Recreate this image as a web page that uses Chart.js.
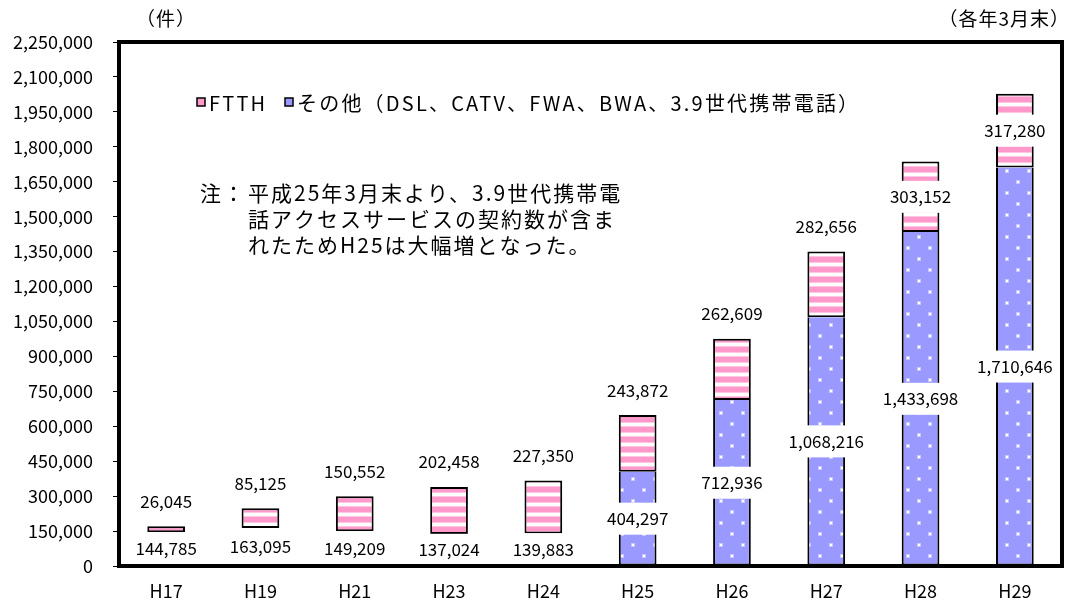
<!DOCTYPE html>
<html>
<head>
<meta charset="utf-8">
<script src="https://cdn.jsdelivr.net/npm/chart.js@4"></script>
<style>
  html, body { margin: 0; padding: 0; background: #fff; }
  #wrap { width: 1072px; height: 601px; }
</style>
</head>
<body>
<div id="wrap"><canvas id="grafico" width="1072" height="601"></canvas></div>
<script>
const categorias = ['H17', 'H19', 'H21', 'H23', 'H24', 'H25', 'H26', 'H27', 'H28', 'H29'];
const ftth = [26045, 85125, 150552, 202458, 227350, 243872, 262609, 282656, 303152, 317280];
const outros = [144785, 163095, 149209, 137024, 139883, 404297, 712936, 1068216, 1433698, 1710646];
const yTicks = [0, 150000, 300000, 450000, 600000, 750000, 900000, 1050000, 1200000, 1350000,
                1500000, 1650000, 1800000, 1950000, 2100000, 2250000];
// anos em que a parte de baixo aparece sem preenchimento
const semPreenchimento = ['H17', 'H19', 'H21', 'H23', 'H24'];
// anos com o rótulo do FTTH dentro da barra
const rotuloDentro = ['H28', 'H29'];

const FONTE = "'Noto Sans CJK JP', 'Noto Sans', sans-serif";
const fmt = v => v.toLocaleString('en-US');

const canvas = document.getElementById('grafico');
const ctx = canvas.getContext('2d');

// Padrões de preenchimento
function listras() {
    const c = document.createElement('canvas');
    c.width = 10; c.height = 10;
    const g = c.getContext('2d');
    g.fillStyle = '#ffffff'; g.fillRect(0, 0, 10, 10);
    g.fillStyle = '#ffc6e3'; g.fillRect(0, 0, 10, 7);
    g.fillStyle = '#ff99cc'; g.fillRect(0, 1, 10, 5);
    const p = ctx.createPattern(c, 'repeat');
    p.setTransform(new DOMMatrix().translate(0, 6));
    return p;
}
function pontos() {
    const c = document.createElement('canvas');
    c.width = 22; c.height = 22;
    const g = c.getContext('2d');
    g.fillStyle = '#9999ff'; g.fillRect(0, 0, 22, 22);
    g.fillStyle = '#c8c8ff';
    g.fillRect(4, 4, 4, 4); g.fillRect(15, 15, 4, 4);
    g.fillStyle = '#ffffff';
    g.fillRect(5, 5, 2, 2); g.fillRect(16, 16, 2, 2);
    return ctx.createPattern(c, 'repeat');
}
const corFTTH = listras();
const corOutros = pontos();

function caixa(c, texto, x, y, fundo) {
    c.font = '17px ' + FONTE;
    c.letterSpacing = '0px';
    c.textAlign = 'center';
    c.textBaseline = 'middle';
    if (fundo) {
        const w = c.measureText(texto).width + 8;
        c.fillStyle = '#fff';
        c.fillRect(x - w / 2, y - 16, w, 32);
    }
    c.fillStyle = '#000';
    c.fillText(texto, x, y);
}

const extras = {
    id: 'extras',
    afterDatasetsDraw(chart) {
        const c = chart.ctx;
        const area = chart.chartArea;
        c.save();

        // rótulos
        const mOutros = chart.getDatasetMeta(0);
        const mFTTH = chart.getDatasetMeta(1);
        mOutros.data.forEach((bar, i) => {
            caixa(c, fmt(outros[i]), bar.x, (bar.y + bar.base) / 2, true);
        });
        mFTTH.data.forEach((bar, i) => {
            if (rotuloDentro.includes(categorias[i])) {
                caixa(c, fmt(ftth[i]), bar.x, (bar.y + bar.base) / 2, true);
            } else {
                caixa(c, fmt(ftth[i]), bar.x, bar.y - 25, false);
            }
        });

        // moldura da área do gráfico
        c.strokeStyle = '#000';
        c.lineWidth = 4;
        c.strokeRect(area.left, area.top, area.right - area.left, area.bottom - area.top);

        // legenda
        c.font = '20px ' + FONTE;
        c.letterSpacing = '2.2px';
        c.textAlign = 'left';
        c.textBaseline = 'middle';
        const itens = [
            { cor: '#ff99cc', texto: chart.data.datasets[1].label, x: 197 },
            { cor: '#9999ff', texto: chart.data.datasets[0].label, x: 285 }
        ];
        itens.forEach(it => {
            c.fillStyle = it.cor;
            c.fillRect(it.x, 98, 8, 8);
            c.lineWidth = 1.5;
            c.strokeStyle = '#000';
            c.strokeRect(it.x, 98, 8, 8);
            c.fillStyle = '#000';
            c.fillText(it.texto, it.x + 12, 103);
        });

        // nota
        c.font = '21px ' + FONTE;
        c.letterSpacing = '2px';
        c.fillText('注：', 200, 193);
        c.fillText('平成25年3月末より、3.9世代携帯電', 248, 193);
        c.fillText('話アクセスサービスの契約数が含ま', 248, 219);
        c.fillText('れたためH25は大幅増となった。', 248, 245);

        // unidades
        c.font = '19px ' + FONTE;
        c.letterSpacing = '1px';
        c.textAlign = 'center';
        c.fillText('（件）', 166, 19);
        c.textAlign = 'right';
        c.fillText('（各年3月末）', 1070, 19);
        c.restore();
    }
};

new Chart(ctx, {
    type: 'bar',
    data: {
        labels: categorias,
        datasets: [
            {
                label: 'その他（DSL、CATV、FWA、BWA、3.9世代携帯電話）',
                data: outros,
                backgroundColor: categorias.map(c => semPreenchimento.includes(c) ? '#ffffff' : corOutros),
                borderColor: '#000',
                borderWidth: categorias.map(c => semPreenchimento.includes(c) ? 0 : { top: 0, left: 2, right: 2, bottom: 2 }),
                borderSkipped: false,
                barPercentage: 0.4,
                categoryPercentage: 1
            },
            {
                label: 'FTTH',
                data: ftth,
                backgroundColor: corFTTH,
                borderColor: '#000',
                borderWidth: 2,
                borderSkipped: false,
                barPercentage: 0.4,
                categoryPercentage: 1
            }
        ]
    },
    options: {
        responsive: false,
        animation: false,
        layout: { padding: { top: 42, right: 10, left: 0, bottom: 0 } },
        plugins: {
            legend: { display: false },
            tooltip: { enabled: false }
        },
        scales: {
            x: {
                stacked: true,
                grid: { display: false, drawTicks: false },
                border: { display: false },
                ticks: { color: '#000', font: { size: 18, family: FONTE }, padding: 14 },
                afterFit: s => { s.height = 35; }
            },
            y: {
                stacked: true,
                min: 0,
                max: 2250000,
                afterBuildTicks: s => { s.ticks = yTicks.map(v => ({ value: v })); },
                grid: { drawOnChartArea: false, drawTicks: true, tickLength: 6, color: '#000', lineWidth: 1 },
                border: { display: false },
                ticks: {
                    color: '#000',
                    font: { size: 18, family: FONTE },
                    padding: 20,
                    callback: v => fmt(v)
                },
                afterFit: s => { s.width = 119; }
            }
        }
    },
    plugins: [extras]
});
</script>
</body>
</html>
